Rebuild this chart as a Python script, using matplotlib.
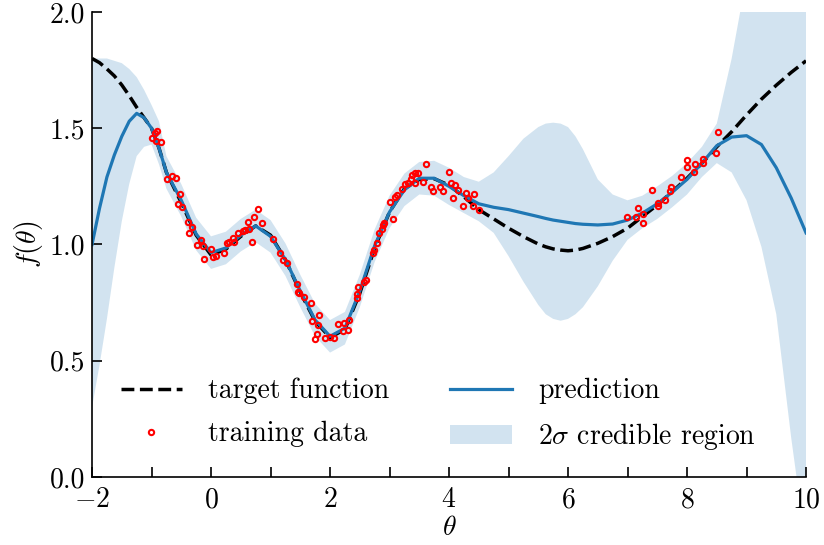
import numpy as np
import matplotlib
matplotlib.use("Agg")
import matplotlib.pyplot as plt

plt.rcParams['font.family'] = 'serif'
plt.rcParams['font.serif'] = ['cmr10']
plt.rcParams['mathtext.fontset'] = 'cm'
plt.rcParams['axes.formatter.use_mathtext'] = True
plt.rcParams['font.size'] = 20

# grid of theta values
theta = [-2.0, -1.875, -1.75, -1.625, -1.5, -1.375, -1.25, -1.125, -1.0, -0.875, -0.75,
         -0.5, -0.25, 0.0, 0.25, 0.5, 0.75,
         1.0, 1.25, 1.5, 1.75, 2.0, 2.25, 2.5, 2.75, 3.0, 3.25, 3.5, 3.75,
         4.0, 4.25, 4.5, 4.75, 5.0, 5.25, 5.5, 5.625, 5.75, 5.875, 6.0, 6.125, 6.25, 6.5, 6.75,
         7.0, 7.25, 7.5, 7.75, 8.0, 8.25, 8.5, 8.75, 9.0, 9.25, 9.5, 9.75, 10.0]

target = [1.80, 1.782, 1.755, 1.725, 1.686, 1.64, 1.59, 1.545, 1.50, 1.415, 1.31,
          1.18, 1.04, 0.955, 0.98, 1.035, 1.08,
          1.04, 0.935, 0.795, 0.67, 0.60, 0.635, 0.79, 0.985, 1.14, 1.24, 1.28, 1.283,
          1.255, 1.205, 1.15, 1.11, 1.07, 1.034, 1.002, 0.99, 0.981, 0.976, 0.973, 0.976, 0.983, 1.005, 1.034,
          1.07, 1.12, 1.17, 1.227, 1.285, 1.349, 1.42, 1.485, 1.557, 1.625, 1.685, 1.74, 1.79]

pred = [1.00, 1.155, 1.29, 1.385, 1.465, 1.53, 1.564, 1.545, 1.50, 1.415, 1.31,
        1.19, 1.045, 0.965, 0.985, 1.04, 1.08,
        1.035, 0.935, 0.80, 0.675, 0.605, 0.64, 0.80, 0.995, 1.14, 1.235, 1.285, 1.285,
        1.25, 1.21, 1.175, 1.16, 1.15, 1.135, 1.12, 1.112, 1.105, 1.10, 1.095, 1.09, 1.087, 1.084, 1.088,
        1.105, 1.135, 1.175, 1.225, 1.28, 1.35, 1.425, 1.462, 1.468, 1.43, 1.33, 1.20, 1.05]

upper = [1.80, 1.80, 1.80, 1.79, 1.78, 1.755, 1.72, 1.665, 1.60, 1.53, 1.38,
         1.26, 1.115, 1.035, 1.055, 1.11, 1.15,
         1.105, 1.005, 0.87, 0.745, 0.675, 0.71, 0.87, 1.065, 1.21, 1.305, 1.355, 1.36,
         1.33, 1.29, 1.27, 1.31, 1.38, 1.455, 1.505, 1.52, 1.524, 1.52, 1.505, 1.465, 1.41, 1.28, 1.215,
         1.19, 1.21, 1.25, 1.295, 1.35, 1.42, 1.52, 1.80, 2.15, 2.5, 2.8, 3.0, 3.2]

lower = [0.30, 0.48, 0.68, 0.90, 1.10, 1.26, 1.38, 1.42, 1.43, 1.345, 1.24,
         1.12, 0.975, 0.895, 0.915, 0.97, 1.01,
         0.965, 0.865, 0.73, 0.605, 0.535, 0.57, 0.73, 0.925, 1.07, 1.165, 1.215, 1.21,
         1.17, 1.135, 1.10, 1.05, 0.95, 0.84, 0.74, 0.70, 0.68, 0.672, 0.68, 0.70, 0.73, 0.82, 0.93,
         1.02, 1.07, 1.11, 1.16, 1.215, 1.29, 1.35, 1.31, 1.19, 0.99, 0.70, 0.17, -0.3]

# training data
x_train = [-0.913, -0.941, -0.987, -0.929, -0.845, -0.745, -0.661, -0.593, -0.521, -0.550,
           -0.492, -0.392, -0.314, -0.365, -0.173, -0.230, -0.129, -0.005, -0.113, 0.039,
           0.08, 0.218, 0.264, 0.308, 0.375, 0.387, 0.459, 0.533, 0.571, 0.644,
           0.627, 0.723, 0.785, 0.852, 0.694, 1.047, 1.160, 1.205, 1.272, 1.440,
           1.467, 1.479, 1.563, 1.676, 1.820, 1.703, 1.803, 1.787, 1.748, 1.916,
           2.0, 2.072, 2.139, 2.213, 2.235, 2.319, 2.297, 2.449, 2.476, 2.459,
           2.571, 2.605, 2.718, 2.739, 2.785, 2.824, 2.869, 2.896, 2.913, 3.064,
           3.008, 3.092, 3.131, 3.205, 3.261, 3.316, 3.356, 3.429, 3.429, 3.484,
           3.613, 3.373, 3.568, 3.692, 3.726, 3.849, 3.904, 4.005, 4.029, 4.101,
           4.072, 4.156, 4.286, 4.324, 4.420, 4.240, 4.398, 4.509,
           8.526, 8.487, 8.274, 8.274, 8.134, 7.995, 7.995, 8.123, 7.894, 7.726,
           7.714, 7.630, 7.518, 7.518, 7.407, 7.182, 7.266, 7.143, 6.987, 7.266]
y_train = [1.489, 1.481, 1.457, 1.446, 1.440, 1.282, 1.295, 1.285, 1.217, 1.174,
           1.160, 1.095, 1.074, 1.048, 1.019, 0.998, 0.994, 0.979, 0.936, 0.948,
           0.952, 0.965, 1.005, 1.009, 1.027, 1.012, 1.048, 1.059, 1.062, 1.065,
           1.095, 1.117, 1.153, 1.094, 1.009, 1.022, 0.965, 0.933, 0.919, 0.830,
           0.797, 0.790, 0.773, 0.750, 0.697, 0.671, 0.654, 0.615, 0.592, 0.597,
           0.601, 0.597, 0.658, 0.628, 0.664, 0.675, 0.632, 0.769, 0.818, 0.787,
           0.840, 0.847, 0.965, 0.976, 1.005, 1.048, 1.065, 1.084, 1.094, 1.110,
           1.184, 1.206, 1.213, 1.237, 1.260, 1.263, 1.280, 1.266, 1.306, 1.306,
           1.346, 1.299, 1.270, 1.249, 1.231, 1.246, 1.230, 1.311, 1.266, 1.256,
           1.199, 1.234, 1.220, 1.199, 1.216, 1.166, 1.166, 1.148,
           1.483, 1.395, 1.366, 1.349, 1.345, 1.363, 1.332, 1.311, 1.289, 1.246,
           1.231, 1.191, 1.177, 1.166, 1.234, 1.158, 1.131, 1.117, 1.120, 1.091]

fig = plt.figure(figsize=(8.24, 5.45), dpi=100)
ax = fig.add_axes([0.1117, 0.1248, 0.8665, 0.8532])

ax.fill_between(theta, lower, upper, color='tab:blue', alpha=0.2, lw=0,
                label=r'$2\sigma$ credible region')
ax.plot(theta, target, 'k--', lw=2.5, label='target function')
ax.plot(theta, pred, color='tab:blue', lw=2.3, label='prediction')
ax.plot(x_train, y_train, 'o', ls='none', mfc='none', mec='red', ms=3.8, mew=1.5,
        label='training data')

ax.set_xlim(-2, 10)
ax.set_ylim(0, 2)
ax.set_xticks(np.arange(-2, 11, 2))
ax.set_xticks(np.arange(-2, 11, 1), minor=True)
ax.set_yticks([0.0, 0.5, 1.0, 1.5, 2.0])
ax.yaxis.set_major_formatter(matplotlib.ticker.FormatStrFormatter('%.1f'))
ax.tick_params(which='both', direction='in', length=7, width=1.2)
ax.tick_params(axis='x', pad=7)
ax.tick_params(axis='y', pad=5)
for s in ['top', 'right']:
    ax.spines[s].set_visible(False)
for s in ['left', 'bottom']:
    ax.spines[s].set_linewidth(1.2)

ax.set_xlabel(r'$\theta$', labelpad=1)
ax.set_ylabel(r'$f(\theta)$', labelpad=3)

h, l = ax.get_legend_handles_labels()
order = [1, 3, 2, 0]
ax.legend([h[i] for i in order], [l[i] for i in order], ncol=2, frameon=False,
          loc='lower left', bbox_to_anchor=(0.005, 0.0), handlelength=2.2,
          handletextpad=0.95, columnspacing=2.2, labelspacing=0.6)

plt.savefig('out.png', dpi=100)
